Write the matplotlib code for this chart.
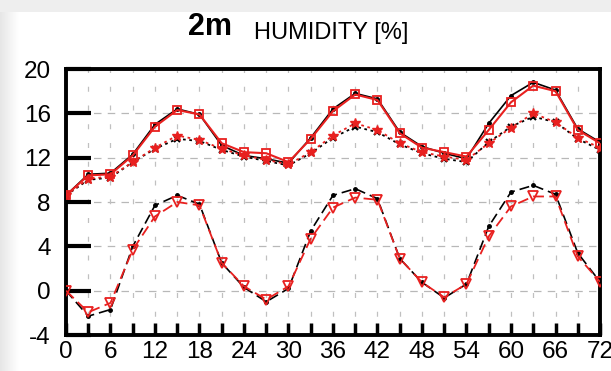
import numpy as np
import matplotlib
matplotlib.use("Agg")
import matplotlib.pyplot as plt
from matplotlib.patches import Rectangle

plt.rcParams["font.family"] = ["Liberation Sans", "DejaVu Sans"]
plt.rcParams["axes.unicode_minus"] = False

# ---------------- data (forecast hour vs humidity) ----------------
hours = list(range(0, 73, 3))

solid_black = [8.6, 10.5, 10.6, 12.3, 15.0, 16.4, 15.9, 13.1, 12.2, 11.9, 11.5, 13.8,
               16.4, 17.8, 17.3, 14.3, 13.0, 12.4, 11.9, 15.1, 17.6, 18.8, 18.1, 14.6, 13.4]
solid_red = [8.6, 10.4, 10.5, 12.2, 14.8, 16.3, 15.9, 13.3, 12.5, 12.4, 11.6, 13.7,
             16.2, 17.7, 17.2, 14.2, 12.9, 12.5, 12.1, 14.5, 17.0, 18.5, 18.0, 14.5, 13.3]
dotted_black = [8.6, 10.0, 10.2, 11.6, 12.8, 13.7, 13.5, 12.7, 12.1, 11.7, 11.3, 12.4,
                13.8, 14.8, 14.3, 13.2, 12.4, 11.9, 11.6, 13.4, 14.8, 15.7, 15.2, 13.7, 12.7]
dotted_red = [8.6, 10.1, 10.3, 11.6, 12.9, 14.0, 13.6, 12.8, 12.2, 11.8, 11.4, 12.5,
              14.0, 15.1, 14.5, 13.3, 12.5, 12.1, 11.8, 13.3, 14.7, 16.0, 15.2, 13.8, 12.9]
dashed_black = [0.0, -2.3, -1.7, 4.0, 7.7, 8.6, 7.8, 2.5, 0.3, -1.0, 0.2, 5.4,
                8.6, 9.2, 8.3, 2.9, 0.75, -0.65, 0.6, 5.8, 8.9, 9.5, 8.7, 3.4, 0.8]
dashed_red = [0.0, -1.95, -1.1, 3.7, 6.7, 8.0, 7.7, 2.5, 0.4, -0.8, 0.4, 4.7,
              7.5, 8.4, 8.2, 2.9, 0.75, -0.6, 0.6, 4.9, 7.6, 8.5, 8.5, 3.1, 0.8]

yticks = [-4, 0, 4, 8, 12, 16, 20]
xlabels = list(range(0, 73, 6))

# ---------------- figure ----------------
fig = plt.figure(figsize=(6.11, 3.71), dpi=100)
fig.patch.set_facecolor("white")
# screenshot-like grey edges (top strip + soft left fade)
fig.patches.append(Rectangle((0, 0.968), 1, 0.032, transform=fig.transFigure,
                             facecolor="#eeeeee", edgecolor="none", zorder=0))
bg = fig.add_axes([0, 0, 0.03, 0.968], zorder=-1)
bg.imshow(np.linspace(0.9, 1.0, 50)[None, :], cmap="gray", vmin=0, vmax=1,
          aspect="auto", extent=(0, 1, 0, 1))
bg.axis("off")

ax = fig.add_axes([0.108, 0.0970, 0.874, 0.717])
ax.set_facecolor("white")

ax.plot(hours, solid_black, color="black", lw=1.2, marker="o", ms=2.5, zorder=3)
ax.plot(hours, solid_red, color="#e8201f", lw=1.5, marker="s", ms=5.5, mfc="none",
        mew=1.3, zorder=4)
ax.plot(hours, dotted_black, color="black", lw=1.3, ls=(0, (1.5, 2)), marker="x",
        ms=5, mew=1.5, zorder=3)
ax.plot(hours, dotted_red, color="#e8201f", lw=1.3, ls=(0, (1.5, 2)), marker="*",
        ms=7, zorder=4)
ax.plot(hours, dashed_black, color="black", lw=1.2, ls=(0, (6, 3)), marker="o",
        ms=2.5, zorder=3)
ax.plot(hours, dashed_red, color="#e8201f", lw=1.3, ls=(0, (6, 3)), marker="v",
        ms=6.5, mfc="none", mew=1.3, zorder=4)

ax.set_xlim(0, 72)
ax.set_ylim(-4, 20)
ax.set_xticks(hours)
ax.set_xticklabels([str(h) if h in xlabels else "" for h in hours])
ax.set_yticks(yticks)

# grid: dashed horizontals every 4, sparse dashed verticals every 3h
for yv in yticks[1:-1]:
    ax.axhline(yv, color="#b8b8b8", lw=0.9, ls=(0, (6, 5)), zorder=1)
for h in hours[1:-1]:
    ax.axvline(h, color="#c0c0c0", lw=0.9, ls=(0, (4, 11)), zorder=1)

for s in ax.spines.values():
    s.set_linewidth(2.8)
ax.tick_params(axis="y", direction="in", length=18, width=3, labelsize=17.5, pad=11)
ax.tick_params(axis="x", direction="in", length=9, width=2.5, labelsize=17.5, pad=4)

fig.text(0.380, 0.905, "2m", fontsize=22, fontweight="bold", ha="right", va="baseline")
fig.text(0.416, 0.895, "HUMIDITY [%]", fontsize=17, ha="left", va="baseline")

fig.savefig("out.png", dpi=100, facecolor=fig.get_facecolor())
